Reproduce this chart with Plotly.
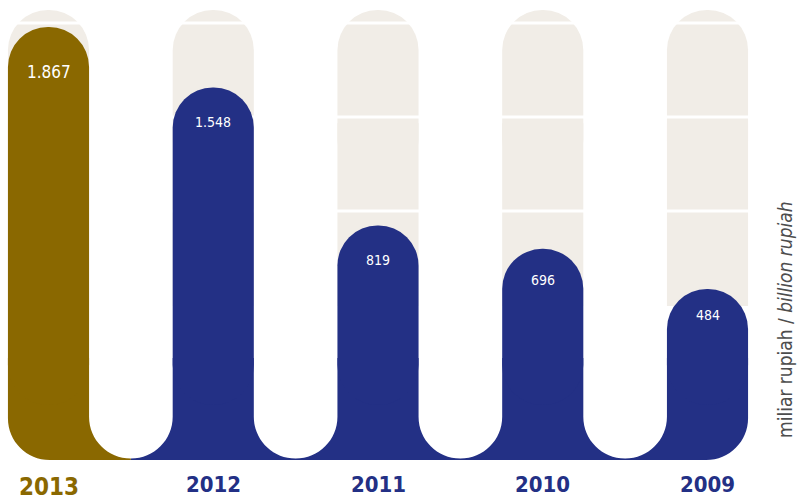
import plotly.graph_objects as go

# ---- data ----
years = ["2013", "2012", "2011", "2010", "2009"]
values = [1867, 1548, 819, 696, 484]
value_labels = ["1.867", "1.548", "819", "696", "484"]
unit_text = "miliar rupiah / <i>billion rupiah</i>"

# ---- styles ----
GOLD = "#8a6800"
BLUE = "#233085"
BEIGE = "#f1ede7"
GREY = "#4d4d4d"
FONT = "DejaVu Sans Condensed, Liberation Sans Narrow, sans-serif"
colors = [GOLD] + [BLUE] * 4
label_sizes = [17, 14, 14, 14, 14]
label_shift = [-45, -35, -34, -31, -26]
year_sizes = [24, 22, 22, 22, 22]
year_colors = [GOLD] + [BLUE] * 4

xs = list(range(len(years)))
n = len(xs)
BAR_W = 0.4924
GAP_W = 1 - BAR_W

# axis scaling (pixels per unit) used to keep decorative curves circular
px_per_unit = 0.18944
zero_px = 380.7
step = 164.75
x0 = 48.5

# decorative levels (in axis units)
Y_BOTTOM = (zero_px - 460) / px_per_unit      # bottom edge of the foot band
Y_BASE = (zero_px - 405) / px_per_unit        # where the value bars start
Y_BAND_TOP = (zero_px - 358) / px_per_unit    # top of the foot band (hidden under bars)
Y_U = Y_BOTTOM + 1.5 / px_per_unit            # lowest point of the white gaps
RX = GAP_W / 2                                # corner radius in x units
RY = (GAP_W / 2) * step / px_per_unit         # same radius in y units
K = 0.5523
PILL_BASE = (zero_px - 306) / px_per_unit
PILL_SPLIT = (zero_px - 180) / px_per_unit
PILL_TOP = (zero_px - 10) / px_per_unit
GRID = [1888.0, 1392.0, 896.0]
GRID_H = 15.0

fig = go.Figure()

# background pills: rounded upper part + square lower part
fig.add_trace(go.Bar(
    x=xs, y=[PILL_TOP - PILL_SPLIT] * n, base=[PILL_SPLIT] * n,
    width=BAR_W, marker=dict(color=BEIGE, line=dict(width=0), cornerradius="50%"),
    hoverinfo="skip"))
fig.add_trace(go.Bar(
    x=xs, y=[PILL_SPLIT + 300 - PILL_BASE] * n, base=[PILL_BASE] * n,
    width=BAR_W, marker=dict(color=BEIGE, line=dict(width=0)),
    hoverinfo="skip"))

# white grid lines over the pills
for g in GRID:
    fig.add_trace(go.Bar(
        x=xs, y=[GRID_H] * n, base=[g - GRID_H / 2] * n,
        width=BAR_W + 0.02, marker=dict(color="white", line=dict(width=0)),
        hoverinfo="skip"))

# main value bars
fig.add_trace(go.Bar(
    x=xs, y=[v - Y_BASE for v in values], base=[Y_BASE] * n,
    width=BAR_W, marker=dict(color=colors, line=dict(width=0), cornerradius="50%"),
    hoverinfo="skip"))


# ---- foot band shapes (joined bottoms with rounded white gaps) ----
def P(x, y):
    return "%.5f,%.3f" % (x, y)


def gap_down(c):
    # from left bar's right edge down to the gap bottom centre
    return (" L" + P(c - RX, Y_U + RY) +
            " C" + P(c - RX, Y_U + RY - K * RY) + " " + P(c - K * RX, Y_U) + " " + P(c, Y_U))


def gap_up(c):
    # from gap bottom centre up to right bar's left edge
    return (" C" + P(c + K * RX, Y_U) + " " + P(c + RX, Y_U + RY - K * RY) + " " + P(c + RX, Y_U + RY))


L0 = xs[0] - BAR_W / 2
R0 = xs[0] + BAR_W / 2
first_gap = xs[0] + 0.5
gold_path = ("M" + P(L0, Y_BAND_TOP) +
             " L" + P(L0, Y_BOTTOM + RY) +
             " C" + P(L0, Y_BOTTOM + RY - K * RY) + " " + P(L0 + RX - K * RX, Y_BOTTOM) + " " + P(L0 + RX, Y_BOTTOM) +
             " L" + P(first_gap, Y_BOTTOM) +
             " L" + P(first_gap, Y_U) +
             " C" + P(first_gap - K * RX, Y_U) + " " + P(R0, Y_U + RY - K * RY) + " " + P(R0, Y_U + RY) +
             " L" + P(R0, Y_BAND_TOP) + " Z")

RN = xs[-1] + BAR_W / 2
blue_path = "M" + P(first_gap, Y_BOTTOM) + " L" + P(first_gap, Y_U) + gap_up(first_gap)
for i in xs[1:]:
    Li, Ri = i - BAR_W / 2, i + BAR_W / 2
    blue_path += " L" + P(Li, Y_BAND_TOP) + " L" + P(Ri, Y_BAND_TOP)
    if i < xs[-1]:
        c = i + 0.5
        blue_path += gap_down(c) + gap_up(c)
blue_path += (" L" + P(RN, Y_BOTTOM + RY) +
              " C" + P(RN, Y_BOTTOM + RY - K * RY) + " " + P(RN - RX + K * RX, Y_BOTTOM) + " " + P(RN - RX, Y_BOTTOM) +
              " Z")

shapes = [
    dict(type="path", path=gold_path, xref="x", yref="y", layer="below",
         fillcolor=GOLD, line=dict(width=0)),
    dict(type="path", path=blue_path, xref="x", yref="y", layer="below",
         fillcolor=BLUE, line=dict(width=0)),
]

annotations = []
for i, (v, lab) in enumerate(zip(values, value_labels)):
    annotations.append(dict(
        x=i, y=v, xref="x", yref="y", text=lab, showarrow=False,
        yanchor="middle", yshift=label_shift[i],
        font=dict(family=FONT, size=label_sizes[i], color="white")))
for i, yr in enumerate(years):
    annotations.append(dict(
        x=i, y=1 - (486.5 if i == 0 else 484) / 501, xref="x", yref="paper",
        text="<b>%s</b>" % yr, showarrow=False, yanchor="middle",
        font=dict(family=FONT, size=year_sizes[i], color=year_colors[i])))
annotations.append(dict(
    x=785 / 797, y=1 - 320 / 501, xref="paper", yref="paper", text=unit_text,
    showarrow=False, textangle=-90, xanchor="center", yanchor="middle",
    font=dict(family=FONT, size=19, color=GREY)))

fig.update_layout(
    width=797, height=501,
    margin=dict(l=0, r=0, t=0, b=0),
    barmode="overlay",
    showlegend=False,
    paper_bgcolor="white", plot_bgcolor="white",
    xaxis=dict(range=[-x0 / step, (797 - x0) / step], visible=False, fixedrange=True),
    yaxis=dict(range=[(zero_px - 501) / px_per_unit, zero_px / px_per_unit],
               visible=False, fixedrange=True),
    shapes=shapes,
    annotations=annotations,
)

fig.write_html("out.html")
